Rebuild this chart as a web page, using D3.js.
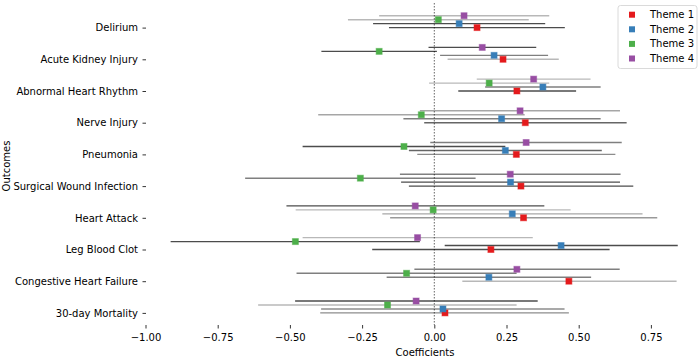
<!DOCTYPE html>
<html>
<head>
<meta charset="utf-8">
<script src="https://cdn.jsdelivr.net/npm/d3@7"></script>
<style>
  html, body { margin: 0; padding: 0; background: #fff; }
  svg { display: block; font-family: "DejaVu Sans", sans-serif; }
</style>
</head>
<body>
<svg id="chart" width="700" height="358"></svg>
<script>
const outcomes = ["Delirium", "Acute Kidney Injury", "Abnormal Heart Rhythm", "Nerve Injury", "Pneumonia",
  "Surgical Wound Infection", "Heart Attack", "Leg Blood Clot", "Congestive Heart Failure", "30-day Mortality"];
const themes = ["Theme 1", "Theme 2", "Theme 3", "Theme 4"];
const xTicks = [-1.0, -0.75, -0.5, -0.25, 0.0, 0.25, 0.5, 0.75];

const theme1Coef = [0.148, 0.238, 0.286, 0.315, 0.284, 0.300, 0.309, 0.196, 0.466, 0.037];
const theme1Lo   = [-0.157, 0.046, 0.083, -0.035, -0.059, -0.088, -0.153, -0.215, 0.097, -0.395];
const theme1Hi   = [0.452, 0.431, 0.491, 0.666, 0.627, 0.689, 0.772, 0.607, 0.839, 0.466];
const theme1Wt   = [0.7, 0.28, 0.7, 0.6, 0.45, 0.7, 0.4, 0.7, 0.28, 0.45];

const theme2Coef = [0.086, 0.207, 0.376, 0.233, 0.246, 0.264, 0.270, 0.439, 0.189, 0.030];
const theme2Lo   = [-0.212, 0.020, 0.176, -0.107, -0.088, -0.115, -0.180, 0.036, -0.165, -0.392];
const theme2Hi   = [0.384, 0.394, 0.576, 0.576, 0.580, 0.643, 0.721, 0.843, 0.543, 0.451];
const theme2Wt   = [0.7, 0.5, 0.5, 0.5, 0.6, 0.7, 0.35, 0.7, 0.5, 0.45];

const theme3Coef = [0.014, -0.191, 0.190, -0.045, -0.105, -0.256, -0.004, -0.481, -0.096, -0.162];
const theme3Lo   = [-0.299, -0.391, -0.018, -0.402, -0.456, -0.655, -0.480, -0.913, -0.477, -0.610];
const theme3Hi   = [0.327, 0.009, 0.398, 0.313, 0.246, 0.143, 0.472, -0.050, 0.285, 0.285];
const theme3Wt   = [0.28, 0.7, 0.28, 0.35, 0.7, 0.5, 0.28, 0.7, 0.5, 0.28];

const theme4Coef = [0.103, 0.166, 0.344, 0.297, 0.318, 0.263, -0.066, -0.058, 0.286, -0.063];
const theme4Lo   = [-0.191, -0.020, 0.147, -0.050, -0.014, -0.119, -0.512, -0.456, -0.069, -0.482];
const theme4Hi   = [0.398, 0.353, 0.541, 0.643, 0.649, 0.645, 0.381, 0.341, 0.642, 0.358];
const theme4Wt   = [0.28, 0.7, 0.28, 0.35, 0.5, 0.5, 0.7, 0.28, 0.5, 0.7];

const colors = ["#e41a1c", "#377eb8", "#4daf4a", "#984ea3"];

const seriesData = [
  {coef: theme1Coef, lo: theme1Lo, hi: theme1Hi, wt: theme1Wt},
  {coef: theme2Coef, lo: theme2Lo, hi: theme2Hi, wt: theme2Wt},
  {coef: theme3Coef, lo: theme3Lo, hi: theme3Hi, wt: theme3Wt},
  {coef: theme4Coef, lo: theme4Lo, hi: theme4Hi, wt: theme4Wt}
];

const svg = d3.select("#chart");
const x = d3.scaleLinear().domain([-1, 1]).range([145.5, 723.1]);
const y = d3.scalePoint().domain(outcomes).range([27.6, 312.9]);
const step = y.step();
const offset = k => -k * 0.125 * step;

// zero reference line
svg.append("line")
  .attr("x1", x(0)).attr("x2", x(0))
  .attr("y1", 3).attr("y2", 325)
  .attr("stroke", "#555").attr("stroke-width", 0.9)
  .attr("stroke-dasharray", "1.5,1.5");

const rows = [];
seriesData.forEach((s, k) => {
  outcomes.forEach((o, i) => {
    rows.push({k, o, coef: s.coef[i], lo: s.lo[i], hi: s.hi[i], wt: s.wt[i]});
  });
});

svg.append("g").selectAll("line")
  .data(rows).join("line")
  .attr("x1", d => x(d.lo)).attr("x2", d => x(d.hi))
  .attr("y1", d => y(d.o) + offset(d.k)).attr("y2", d => y(d.o) + offset(d.k))
  .attr("stroke", "#000").attr("stroke-opacity", d => d.wt)
  .attr("stroke-width", 1.4);

const ms = 6;
svg.append("g").selectAll("rect")
  .data(rows).join("rect")
  .attr("x", d => x(d.coef) - ms / 2)
  .attr("y", d => y(d.o) + offset(d.k) - ms / 2)
  .attr("width", ms).attr("height", ms)
  .attr("fill", d => colors[d.k])
  .attr("stroke", d => colors[d.k]).attr("stroke-opacity", 0.5).attr("stroke-width", 1);

// axes
const xAxis = d3.axisBottom(x).tickValues(xTicks).tickFormat(d3.format(".2f"))
  .tickSize(3.5).tickPadding(5.5);
const gx = svg.append("g").attr("transform", "translate(0,325)").call(xAxis);
gx.select(".domain").remove();
gx.selectAll("text").attr("font-size", 10).attr("font-family", "DejaVu Sans").attr("fill", "#000");
gx.selectAll("line").attr("stroke", "#000").attr("stroke-width", 0.8);

const yAxis = d3.axisLeft(y).tickSize(3.5).tickPadding(4.5);
const gy = svg.append("g").attr("transform", "translate(146,0)").call(yAxis);
gy.select(".domain").remove();
gy.selectAll("text").attr("font-size", 10).attr("font-family", "DejaVu Sans").attr("fill", "#000");
gy.selectAll("line").attr("stroke", "#000").attr("stroke-width", 0.8);

svg.append("text").attr("x", 425).attr("y", 356)
  .attr("text-anchor", "middle").attr("font-size", 10).text("Coefficients");
svg.append("text")
  .attr("transform", "translate(9.5,166) rotate(-90)")
  .attr("text-anchor", "middle").attr("font-size", 10).text("Outcomes");

// legend
const lg = svg.append("g");
lg.append("rect").attr("x", 618).attr("y", 5.5).attr("width", 79).attr("height", 63)
  .attr("rx", 2.5).attr("fill", "#fff").attr("fill-opacity", 0.8)
  .attr("stroke", "#d6d6d6").attr("stroke-width", 0.9);
const li = lg.selectAll("g.item").data(themes).join("g")
  .attr("transform", (d, i) => `translate(0,${14.7 + i * 14.6})`);
li.append("rect").attr("x", 632 - 3).attr("y", -3).attr("width", 6).attr("height", 6)
  .attr("fill", (d, i) => colors[i]);
li.append("text").attr("x", 650).attr("y", 0).attr("dy", "0.35em")
  .attr("font-size", 10).text(d => d);
</script>
</body>
</html>
